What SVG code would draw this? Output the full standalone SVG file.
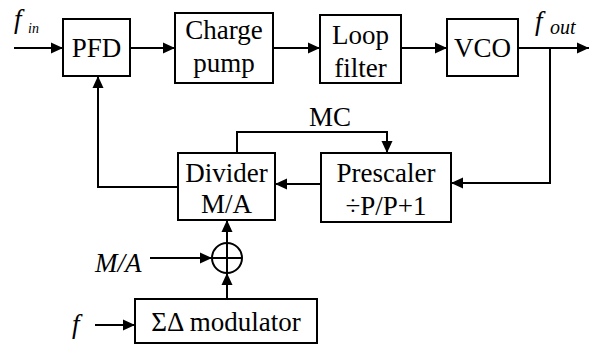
<svg xmlns="http://www.w3.org/2000/svg" width="589" height="345" viewBox="0 0 589 345">
<style>
.box{fill:#fff;stroke:#000;stroke-width:2}
.t{font-family:"Liberation Serif","Times New Roman",serif;font-size:27px;fill:#000;text-anchor:middle}
.it{font-family:"Liberation Serif","Times New Roman",serif;font-style:italic;fill:#000}
.c{fill:none;stroke:#000;stroke-width:2}
</style>
<defs>
<marker id="ah" markerUnits="userSpaceOnUse" markerWidth="12" markerHeight="12" viewBox="0 0 12 12" refX="12" refY="6" orient="auto">
<path d="M0,0.5 L12,6 L0,11.5 Z" fill="#000"/>
</marker>
</defs>
<g id="connectors">
<path class="c" d="M14,48 H63" marker-end="url(#ah)"/>
<path class="c" d="M130,48 H175" marker-end="url(#ah)"/>
<path class="c" d="M273,48 H320" marker-end="url(#ah)"/>
<path class="c" d="M401,48 H447" marker-end="url(#ah)"/>
<path class="c" d="M518,48 H589" marker-end="url(#ah)"/>
<path class="c" d="M550,48 V183 H451" marker-end="url(#ah)"/>
<path class="c" d="M321,184 H275" marker-end="url(#ah)"/>
<path class="c" d="M178,187 H98 V76" marker-end="url(#ah)"/>
<path class="c" d="M237,153 V132 H387 V153" marker-end="url(#ah)"/>
<path class="c" d="M227,243 V220" marker-end="url(#ah)"/>
<path class="c" d="M150,258 H212" marker-end="url(#ah)"/>
<path class="c" d="M227,299 V273" marker-end="url(#ah)"/>
<path class="c" d="M95,325 H135" marker-end="url(#ah)"/>
</g>
<g id="fin"><text class="it" x="14" y="28" font-size="27">f</text><text class="it" x="28" y="33" font-size="14">in</text></g>
<g id="fout"><text class="it" x="535" y="30" font-size="27">f</text><text class="it" x="550" y="34" font-size="20">out</text></g>
<g id="pfd"><rect class="box" x="63" y="19" width="67" height="57"/><text class="t" x="96.5" y="57">PFD</text></g>
<g id="chargepump"><rect class="box" x="175" y="13" width="98" height="70"/><text class="t" x="224" y="39">Charge</text><text class="t" x="224" y="72">pump</text></g>
<g id="loopfilter"><rect class="box" x="320" y="15" width="81" height="68"/><text class="t" x="360.5" y="44">Loop</text><text class="t" x="360.5" y="77">filter</text></g>
<g id="vco"><rect class="box" x="447" y="19" width="71" height="57"/><text class="t" x="482.5" y="57">VCO</text></g>
<g id="divider"><rect class="box" x="178" y="153" width="97" height="67"/><text class="t" x="226.5" y="182">Divider</text><text class="t" x="226.5" y="213">M/A</text></g>
<g id="prescaler"><rect class="box" x="321" y="153" width="130" height="69"/><text class="t" x="386" y="182">Prescaler</text><text class="t" x="386" y="215">÷P/P+1</text></g>
<g id="mc"><text class="t" x="330" y="126">MC</text></g>
<g id="sum"><circle cx="227" cy="258" r="15" fill="#fff" stroke="#000" stroke-width="2"/><path d="M212,258 H242 M227,243 V273" stroke="#000" stroke-width="2"/></g>
<g id="ma"><text class="it" x="95" y="272" font-size="27">M/A</text></g>
<g id="f"><text class="it" x="72" y="333" font-size="27">f</text></g>
<g id="sigmadelta"><rect class="box" x="135" y="299" width="182" height="44"/><text class="t" x="226" y="331">ΣΔ modulator</text></g>
</svg>
